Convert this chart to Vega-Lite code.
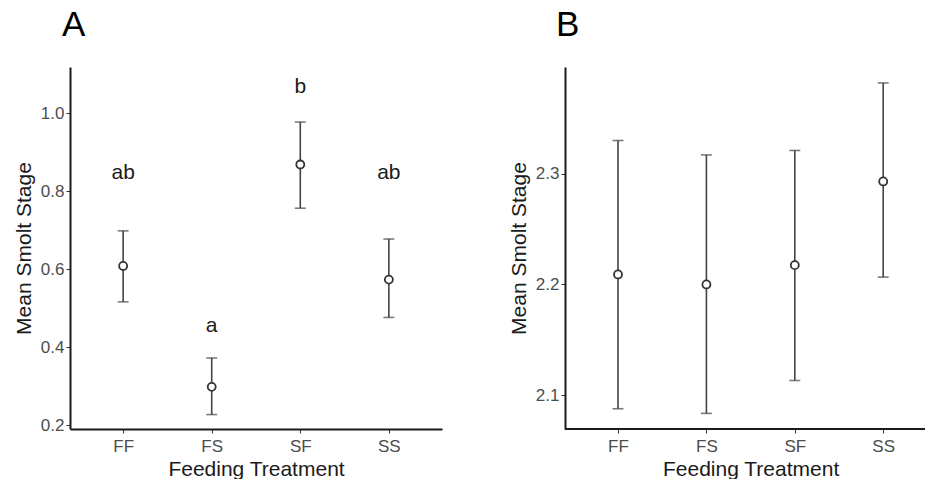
{
  "$schema": "https://vega.github.io/schema/vega-lite/v6.json",
  "padding": {"left": 13, "top": 8, "right": 0, "bottom": 0},
  "config": {
    "font": "Liberation Sans",
    "view": {"stroke": null},
    "axis": {"domainColor": "#1a1a1a", "domainWidth": 2, "tickColor": "#333333", "tickSize": 4, "tickWidth": 1, "labelColor": "#4d4d4d", "labelFontSize": 17, "titleColor": "#1a1a1a", "titleFontSize": 21, "titleFontWeight": "normal", "grid": false, "labelFont": "Liberation Sans", "titleFont": "Liberation Sans"},
    "title": {"fontSize": 35, "fontWeight": "normal", "anchor": "start", "frame": "group", "color": "#000000", "font": "Liberation Sans"}
  },
  "spacing": 123,
  "bounds": "flush",
  "hconcat": [
    {
      "title": {"text": "A", "dx": -8, "offset": 24},
      "width": 372,
      "height": 362,
      "data": {"values": [
        {"trt": "FF", "mean": 0.608, "lo": 0.516, "hi": 0.698, "label": "ab", "ly": 0.831},
        {"trt": "FS", "mean": 0.298, "lo": 0.227, "hi": 0.372, "label": "a", "ly": 0.438},
        {"trt": "SF", "mean": 0.868, "lo": 0.756, "hi": 0.977, "label": "b", "ly": 1.051},
        {"trt": "SS", "mean": 0.573, "lo": 0.476, "hi": 0.677, "label": "ab", "ly": 0.831}
      ]},
      "encoding": {
        "x": {"field": "trt", "type": "nominal", "scale": {"type": "point", "padding": 0.6}, "axis": {"title": "Feeding Treatment", "labelAngle": 0, "labelPadding": 5, "titlePadding": 4}}
      },
      "layer": [
        {"mark": {"type": "rule", "color": "#444444", "strokeWidth": 1.6},
         "encoding": {"y": {"field": "lo", "type": "quantitative", "title": "Mean Smolt Stage", "scale": {"domain": [0.19, 1.118], "nice": false, "zero": false}, "axis": {"values": [0.2, 0.4, 0.6, 0.8, 1.0], "format": ".1f", "titlePadding": 6, "labelPadding": 2}}, "y2": {"field": "hi"}}},
        {"mark": {"type": "tick", "color": "#444444", "size": 11, "thickness": 1.6, "orient": "horizontal"},
         "encoding": {"y": {"field": "lo", "type": "quantitative", "title": "Mean Smolt Stage"}}},
        {"mark": {"type": "tick", "color": "#444444", "size": 11, "thickness": 1.6, "orient": "horizontal"},
         "encoding": {"y": {"field": "hi", "type": "quantitative", "title": "Mean Smolt Stage"}}},
        {"mark": {"type": "point", "shape": "circle", "filled": true, "fill": "white", "stroke": "#333333", "strokeWidth": 1.8, "size": 64, "opacity": 1},
         "encoding": {"y": {"field": "mean", "type": "quantitative", "title": "Mean Smolt Stage"}}},
        {"mark": {"type": "text", "fontSize": 21, "baseline": "alphabetic", "color": "#1a1a1a"},
         "encoding": {"y": {"field": "ly", "type": "quantitative", "title": "Mean Smolt Stage"}, "text": {"field": "label"}}}
      ]
    },
    {
      "title": {"text": "B", "dx": -9, "offset": 24},
      "width": 360,
      "height": 362,
      "data": {"values": [
        {"trt": "FF", "mean": 2.209, "lo": 2.0877, "hi": 2.330},
        {"trt": "FS", "mean": 2.200, "lo": 2.0835, "hi": 2.317},
        {"trt": "SF", "mean": 2.2174, "lo": 2.1132, "hi": 2.321},
        {"trt": "SS", "mean": 2.293, "lo": 2.2066, "hi": 2.382}
      ]},
      "layer": [
        {"mark": {"type": "rule", "color": "#1a1a1a", "strokeWidth": 2},
         "encoding": {"y": {"datum": 2.0694, "type": "quantitative", "title": "Mean Smolt Stage"}}},
        {"mark": {"type": "rule", "color": "#444444", "strokeWidth": 1.6},
         "encoding": {
           "x": {"field": "trt", "type": "nominal", "scale": {"type": "point", "range": [53, 318.2], "padding": 0}, "axis": {"title": "Feeding Treatment", "labelAngle": 0, "labelPadding": 5, "titlePadding": 4, "domain": false}},
           "y": {"field": "lo", "type": "quantitative", "title": "Mean Smolt Stage", "scale": {"domain": [2.0694, 2.3964], "nice": false, "zero": false}, "axis": {"values": [2.1, 2.2, 2.3], "format": ".1f", "titlePadding": 6, "labelPadding": 2}}, "y2": {"field": "hi"}}},
        {"mark": {"type": "tick", "color": "#444444", "size": 11, "thickness": 1.6, "orient": "horizontal"},
         "encoding": {"x": {"field": "trt", "type": "nominal"}, "y": {"field": "lo", "type": "quantitative", "title": "Mean Smolt Stage"}}},
        {"mark": {"type": "tick", "color": "#444444", "size": 11, "thickness": 1.6, "orient": "horizontal"},
         "encoding": {"x": {"field": "trt", "type": "nominal"}, "y": {"field": "hi", "type": "quantitative", "title": "Mean Smolt Stage"}}},
        {"mark": {"type": "point", "shape": "circle", "filled": true, "fill": "white", "stroke": "#333333", "strokeWidth": 1.8, "size": 64, "opacity": 1},
         "encoding": {"x": {"field": "trt", "type": "nominal"}, "y": {"field": "mean", "type": "quantitative", "title": "Mean Smolt Stage"}}}
      ]
    }
  ]
}
